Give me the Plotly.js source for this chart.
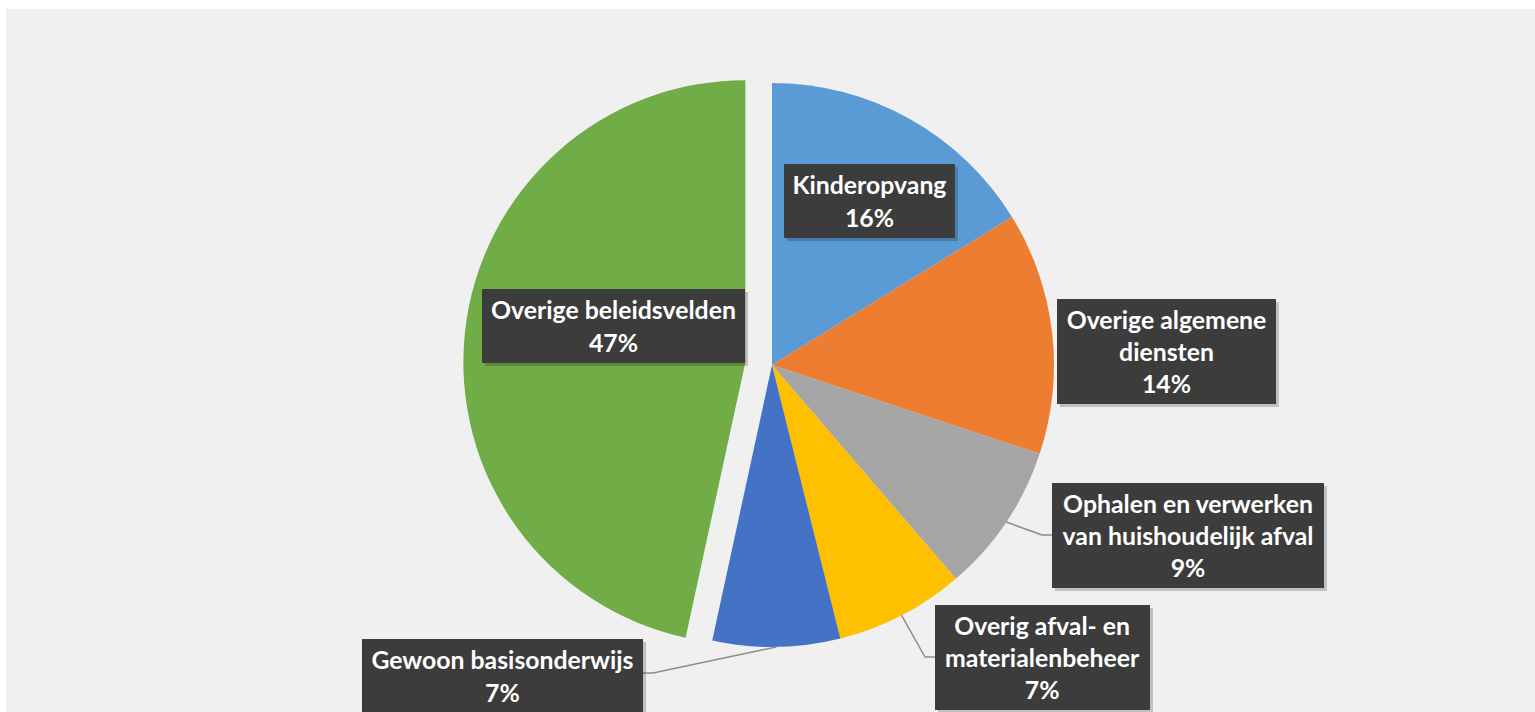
<!DOCTYPE html>
<html><head><meta charset="utf-8">
<script src="https://cdn.plot.ly/plotly-3.0.1.min.js"></script>
<style>
html,body{margin:0;padding:0;background:#ffffff;width:1535px;height:712px;overflow:hidden}
#chart{position:absolute;left:6px;top:9px;width:1529px;height:703px}
</style>
</head><body><div id="chart"></div>
<script>
// ---- data ----
const categories = ["Kinderopvang", "Overige algemene diensten", "Ophalen en verwerken van huishoudelijk afval", "Overig afval- en materialenbeheer", "Gewoon basisonderwijs", "Overige beleidsvelden"];
const values = [16.2, 13.9, 8.6, 7.4, 7.3, 46.6];
const labelLines = [["Kinderopvang"], ["Overige algemene", "diensten"], ["Ophalen en verwerken", "van huishoudelijk afval"], ["Overig afval- en", "materialenbeheer"], ["Gewoon basisonderwijs"], ["Overige beleidsvelden"]];

// ---- style ----
const colors = ["#5B9BD5", "#ED7D31", "#A5A5A5", "#FFC000", "#4472C4", "#70AD47"];
const pulls = [0, 0, 0, 0, 0, 0.095];
const W = 1529, H = 703;
const CX = 766, CY = 356, R = 282;
const FONT_SIZE = 24.8;
// label boxes (pixel centre, size) and optional leader elbow/end
const boxes = [
  {cx: 863.5, cy: 192, w: 171, h: 74},
  {cx: 1160.5, cy: 342.5, w: 219, h: 105},
  {cx: 1182, cy: 526.5, w: 272, h: 105, leader: [[1036, 526], [1046, 526]]},
  {cx: 1036.5, cy: 648.5, w: 215, h: 105, leader: [[919, 648], [929, 648]]},
  {cx: 496.5, cy: 667, w: 281, h: 74, leader: [[647, 664], [637, 664]]},
  {cx: 607.5, cy: 317, w: 263, h: 74}
];

const px = x => x / W;
const py = y => 1 - y / H;
const half = R * (1 + Math.max(...pulls));

const total = values.reduce((a, b) => a + b, 0);
const annotations = [];
const shapes = [];
let cum = 0;
values.forEach((v, i) => {
  const mid = (cum + v / 2) / total * 2 * Math.PI;
  cum += v;
  const b = boxes[i];
  const text = labelLines[i].join("<br>") + "<br>" + Math.round(v / total * 100) + "%";
  const base = {
    xref: "paper", yref: "paper", x: px(b.cx), y: py(b.cy),
    xanchor: "center", yanchor: "middle", showarrow: false,
    width: b.w, height: b.h, borderpad: 0, borderwidth: 0,
    align: "center", valign: "middle", text: text
  };
  annotations.push(Object.assign({}, base, {
    xshift: 3, yshift: -3, bgcolor: "rgba(0,0,0,0.20)",
    font: {family: "Lato", size: FONT_SIZE, color: "rgba(0,0,0,0)", weight: "bold"}
  }));
  annotations.push(Object.assign({}, base, {
    bgcolor: "#3c3c3c",
    font: {family: "Lato", size: FONT_SIZE, color: "#ffffff", weight: "bold"}
  }));
  if (b.leader) {
    const sx = CX + R * Math.sin(mid), sy = CY - R * Math.cos(mid);
    const pts = [[sx, sy]].concat(b.leader);
    const path = pts.map((p, k) => (k ? "L" : "M") + px(p[0]) + "," + py(p[1])).join(" ");
    shapes.push({type: "path", xref: "paper", yref: "paper", path: path,
      line: {color: "#8c8c8c", width: 1.5}, layer: "above"});
  }
});

const trace = {
  type: "pie",
  labels: categories,
  values: values,
  sort: false,
  direction: "clockwise",
  rotation: 0,
  pull: pulls,
  marker: {colors: colors, line: {width: 0}},
  textinfo: "none",
  hoverinfo: "label+percent",
  domain: {x: [px(CX - half), px(CX + half)], y: [py(CY + half), py(CY - half)]}
};

const layout = {
  width: W, height: H,
  margin: {l: 0, r: 0, t: 0, b: 0},
  paper_bgcolor: "#f0f0f0",
  showlegend: false,
  annotations: annotations,
  shapes: shapes
};

Plotly.newPlot("chart", [trace], layout, {displayModeBar: false, staticPlot: true});
</script>
</body></html>
